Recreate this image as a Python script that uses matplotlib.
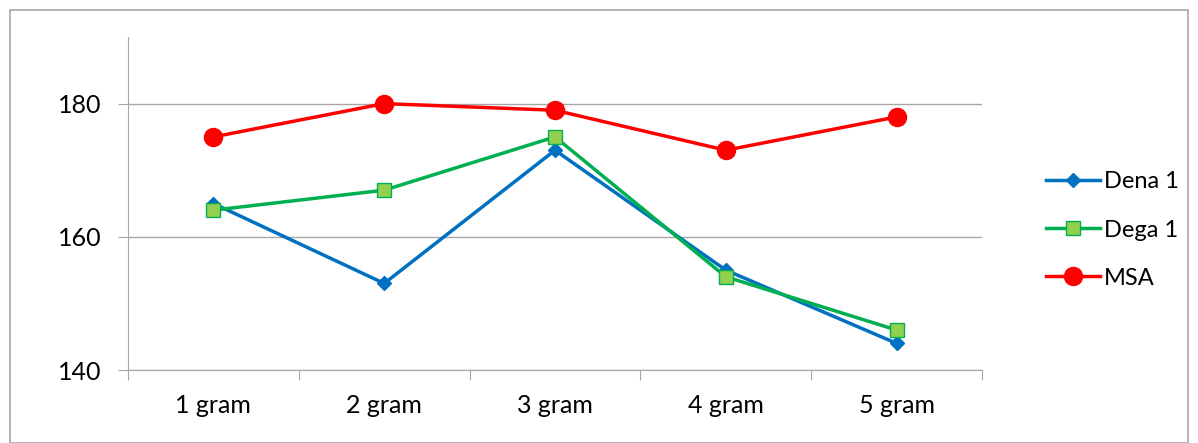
import matplotlib.pyplot as plt
from matplotlib.patches import Rectangle

categories = ['1 gram', '2 gram', '3 gram', '4 gram', '5 gram']
dena = [165, 153, 173, 155, 144]
dega = [164, 167, 175, 154, 146]
msa = [175, 180, 179, 173, 178]
yticks = [140, 160, 180]

plt.rcParams['font.family'] = ['Lato', 'DejaVu Sans']

fig = plt.figure(figsize=(11.98, 4.43), dpi=100)
ax = fig.add_axes([128/1198, 1 - 370/443, (982-128)/1198, (370-37)/443])

# outer chart border
fig.patches.append(Rectangle((10/1198, 0), (1188-10)/1198, 1 - 10/443, transform=fig.transFigure,
                             fill=False, edgecolor='#a6a6a6', linewidth=1.2))

x = list(range(len(categories)))
ax.plot(x, dena, color='#0070c0', lw=2.5, marker='D', ms=7, label='Dena 1')
ax.plot(x, dega, color='#00b050', lw=2.5, marker='s', ms=10, mfc='#92d050', mec='#00b050', mew=1, label='Dega 1')
ax.plot(x, msa, color='#ff0000', lw=2.5, marker='o', ms=13, label='MSA')

ax.set_xlim(-0.5, len(categories) - 0.5)
ax.set_ylim(140, 190)
ax.set_yticks(yticks)
ax.set_yticklabels([str(v) for v in yticks], fontsize=18)
ax.yaxis.grid(True, color='#a6a6a6', lw=1)
ax.set_axisbelow(True)

ax.set_xticks([i - 0.5 for i in range(len(categories) + 1)])
ax.set_xticklabels([])
ax.set_xticks(x, minor=True)
ax.set_xticklabels(categories, minor=True, fontsize=18)
ax.tick_params(axis='x', which='minor', length=0, pad=17)
ax.tick_params(axis='x', which='major', length=7, color='#a6a6a6', direction='out')
ax.tick_params(axis='y', length=7, color='#a6a6a6', pad=12)

for s in ['top', 'right']:
    ax.spines[s].set_visible(False)
ax.spines['left'].set_color('#a6a6a6')
ax.spines['bottom'].set_color('#a6a6a6')

fig.legend(loc='center left', bbox_to_anchor=(1046/1198, 1 - 230/443), frameon=False, fontsize=17,
           handlelength=2.3, labelspacing=1.15, handletextpad=0.15, borderaxespad=0, borderpad=0)

fig.savefig('out.png', dpi=100)
